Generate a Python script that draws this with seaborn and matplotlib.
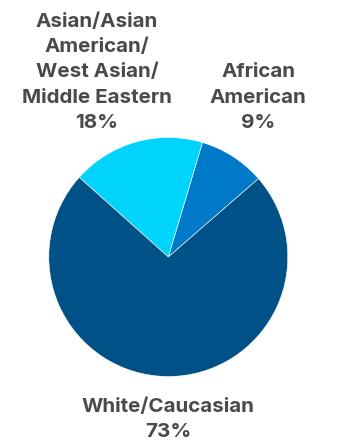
import matplotlib
matplotlib.use("Agg")
import matplotlib.pyplot as plt
import seaborn as sns

# Survey breakdown by group
categories = ["African\nAmerican", "Asian/Asian\nAmerican/\nWest Asian/\nMiddle Eastern", "White/Caucasian"]
shares = [9, 18, 73]
colors = ["#0079C8", "#00D4FC", "#005187"]

sns.set_theme(style="white")
plt.rcParams["font.family"] = ["Inter", "DejaVu Sans"]

W, H = 341, 443
fig = plt.figure(figsize=(W / 100, H / 100), dpi=100)
ax = fig.add_axes([0, 0, 1, 1])

cx, cy, r = 168.3, H - 257.0, 119.5
ax.pie(shares, colors=colors, startangle=41, counterclock=True,
       center=(cx, cy), radius=r, frame=True,
       wedgeprops=dict(edgecolor="white", linewidth=0.4))
ax.set_xlim(0, W)
ax.set_ylim(0, H)
ax.set_aspect("equal")
ax.axis("off")

# label anchors: x centre and baseline of the last line, pixels from top
label_pos = [(258, 127.7), (97, 127.7), (168, 436.7)]
line_step = 25.2
text_color = "#4A4A4A"
for cat, val, (x, ylast) in zip(categories, shares, label_pos):
    lines = cat.split("\n") + [f"{val}%"]
    n = len(lines)
    for i, line in enumerate(lines):
        y = ylast - (n - 1 - i) * line_step
        ax.text(x, H - y, line, ha="center", va="baseline",
                fontsize=14.8, fontweight="bold", color=text_color)

fig.savefig("out.png", dpi=100)
